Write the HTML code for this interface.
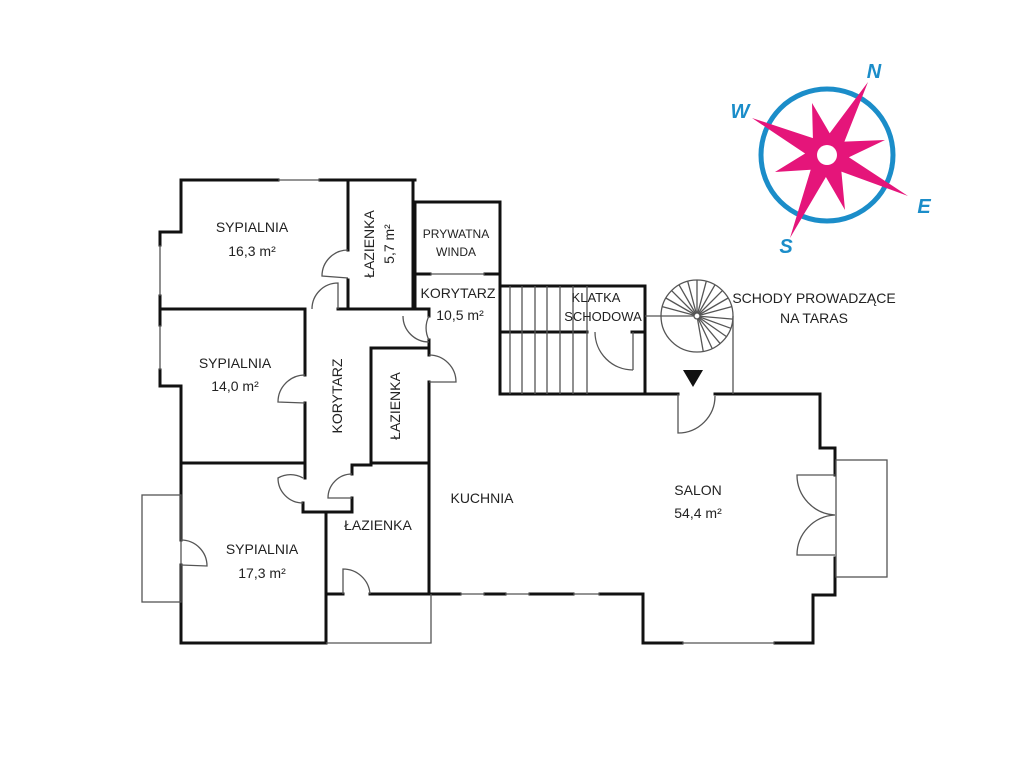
<!DOCTYPE html>
<html><head><meta charset="utf-8"><style>
html,body{margin:0;padding:0;background:#fff;}
svg{display:block;}
text{font-family:"Liberation Sans",sans-serif;fill:#222;}
</style></head><body>
<svg width="1024" height="768" viewBox="0 0 1024 768" xmlns="http://www.w3.org/2000/svg">
<g fill="none" stroke="#111" stroke-width="3" stroke-linecap="square">
<polyline points="278,180 181,180 181,232 160,232 160,245"/>
<line x1="320" y1="180" x2="415" y2="180"/>
<polyline points="160,296 160,325"/>
<line x1="160" y1="309" x2="303" y2="309"/>
<polyline points="338,309 338,309 429,309 429,316"/>
<line x1="348" y1="180" x2="348" y2="250"/>
<line x1="348" y1="280" x2="348" y2="309"/>
<line x1="413" y1="180" x2="413" y2="309"/>
<polyline points="415,202 500,202 500,286 645,286 645,394"/>
<line x1="415" y1="202" x2="415" y2="309"/>
<line x1="415" y1="274" x2="430" y2="274"/>
<line x1="485" y1="274" x2="500" y2="274"/>
<line x1="160" y1="370" x2="160" y2="386"/>
<polyline points="160,386 181,386 181,463"/>
<line x1="181" y1="463" x2="303" y2="463"/>
<line x1="305" y1="309" x2="305" y2="375"/>
<line x1="305" y1="403" x2="305" y2="478"/>
<polyline points="303,503 303,512 352,512 352,498"/>
<polyline points="352,474 352,465 371,465"/>
<polyline points="371,465 371,348 429,348 429,355"/>
<line x1="371" y1="463" x2="429" y2="463"/>
<line x1="429" y1="340" x2="429" y2="350"/>
<line x1="429" y1="382" x2="429" y2="594"/>
<line x1="181" y1="463" x2="181" y2="540"/>
<polyline points="181,565 181,643 326,643 326,512"/>
<line x1="326" y1="594" x2="343" y2="594"/>
<line x1="370" y1="594" x2="460" y2="594"/>
<line x1="485" y1="594" x2="505" y2="594"/>
<line x1="530" y1="594" x2="573" y2="594"/>
<polyline points="600,594 643,594 643,643 682,643"/>
<polyline points="775,643 813,643 813,595 835,595 835,558"/>
<polyline points="835,475 835,448 820,448 820,394 715,394"/>
<line x1="500" y1="394" x2="678" y2="394"/>
<line x1="500" y1="286" x2="500" y2="394"/>
<line x1="500" y1="332" x2="587" y2="332"/>
<line x1="632" y1="332" x2="645" y2="332"/>
</g>
<g fill="none" stroke="#555" stroke-width="1.3">
<line x1="278" y1="180" x2="320" y2="180"/>
<line x1="160" y1="245" x2="160" y2="296"/>
<line x1="160" y1="325" x2="160" y2="370"/>
<line x1="430" y1="274" x2="485" y2="274"/>
<line x1="460" y1="594" x2="485" y2="594"/>
<line x1="505" y1="594" x2="530" y2="594"/>
<line x1="573" y1="594" x2="600" y2="594"/>
<line x1="682" y1="643" x2="775" y2="643"/>
<rect x="142" y="495" width="39" height="107"/>
<rect x="836" y="460" width="51" height="117"/>
<polyline points="326,643 431,643 431,594"/>
<line x1="510" y1="286" x2="510" y2="394"/><line x1="522" y1="286" x2="522" y2="394"/>
<line x1="535" y1="286" x2="535" y2="394"/><line x1="547" y1="286" x2="547" y2="394"/>
<line x1="560" y1="286" x2="560" y2="394"/><line x1="573" y1="286" x2="573" y2="394"/>
<line x1="587" y1="286" x2="587" y2="394"/>
<line x1="633" y1="332" x2="633" y2="370"/>
<path d="M595,332 A38,38 0 0 0 633,370"/>
<line x1="645" y1="316" x2="697" y2="316"/>
<line x1="733" y1="316" x2="733" y2="394"/>
<circle cx="697" cy="316" r="36"/>
<g transform="translate(697,316)">
<line x1="0" y1="0" x2="36" y2="0" transform="rotate(195)"/><line x1="0" y1="0" x2="36" y2="0" transform="rotate(210)"/>
<line x1="0" y1="0" x2="36" y2="0" transform="rotate(225)"/><line x1="0" y1="0" x2="36" y2="0" transform="rotate(240)"/>
<line x1="0" y1="0" x2="36" y2="0" transform="rotate(255)"/><line x1="0" y1="0" x2="36" y2="0" transform="rotate(270)"/>
<line x1="0" y1="0" x2="36" y2="0" transform="rotate(285)"/><line x1="0" y1="0" x2="36" y2="0" transform="rotate(300)"/>
<line x1="0" y1="0" x2="36" y2="0" transform="rotate(315)"/><line x1="0" y1="0" x2="36" y2="0" transform="rotate(330)"/>
<line x1="0" y1="0" x2="36" y2="0" transform="rotate(345)"/><line x1="0" y1="0" x2="36" y2="0" transform="rotate(5)"/>
<line x1="0" y1="0" x2="36" y2="0" transform="rotate(20)"/><line x1="0" y1="0" x2="36" y2="0" transform="rotate(35)"/>
<line x1="0" y1="0" x2="36" y2="0" transform="rotate(50)"/><line x1="0" y1="0" x2="36" y2="0" transform="rotate(65)"/>
<line x1="0" y1="0" x2="36" y2="0" transform="rotate(80)"/>
<circle r="3" fill="#fff"/>
</g>
<path d="M348,250 A26,26 0 0 0 322,276 L348,278"/>
<path d="M312,309 A26,26 0 0 1 338,283 L338,309"/>
<path d="M429,316 A26,26 0 0 0 429,340"/>
<path d="M403,316 A26,26 0 0 0 429,342"/>
<path d="M429,355 A27,27 0 0 1 456,382 L429,382"/>
<path d="M305,375 A27,27 0 0 0 278,402 L305,403"/>
<path d="M303,478 A25,25 0 0 0 278,478 A25,25 0 0 0 303,503"/>
<path d="M352,474 A24,24 0 0 0 328,498 L352,498"/>
<path d="M181,540 A26,26 0 0 1 207,566 L181,565"/>
<path d="M343,594 L343,569 A27,27 0 0 1 370,594"/>
<path d="M678,394 L678,433 A37,37 0 0 0 715,396"/>
<path d="M835,475 L797,475 A40,40 0 0 0 835,515 A40,40 0 0 0 797,555 L835,555"/>
</g>
<polygon points="683,370 703,370 693,387" fill="#111"/>
<g font-size="14" text-anchor="middle">
<text x="252" y="232">SYPIALNIA</text><text x="252" y="256">16,3 m²</text>
<text x="235" y="368">SYPIALNIA</text><text x="235" y="391">14,0 m²</text>
<text x="262" y="554">SYPIALNIA</text><text x="262" y="578">17,3 m²</text>
<text x="378" y="530">ŁAZIENKA</text>
<text x="482" y="503">KUCHNIA</text>
<text x="698" y="495">SALON</text><text x="698" y="518">54,4 m²</text>
<text x="458" y="298">KORYTARZ</text><text x="460" y="320">10,5 m²</text>
<text x="814" y="303">SCHODY PROWADZĄCE</text><text x="814" y="323">NA TARAS</text>
<text x="596" y="302" font-size="13">KLATKA</text><text x="603" y="321" font-size="13">SCHODOWA</text>
<text x="456" y="238" font-size="12">PRYWATNA</text><text x="456" y="256" font-size="12">WINDA</text>
<text transform="translate(374,244) rotate(-90)">ŁAZIENKA</text>
<text transform="translate(394,244) rotate(-90)">5,7 m²</text>
<text transform="translate(342,396) rotate(-90)">KORYTARZ</text>
<text transform="translate(400,406) rotate(-90)">ŁAZIENKA</text>
</g>
<circle cx="827" cy="155" r="66" fill="none" stroke="#1b8dc9" stroke-width="5"/>
<polygon fill="#e5157a" points="868,82 844.4,141.6 885,140 848.9,157.3 908,196 841.4,171.6 845,210 825.9,177 790,238 810.7,169.7 775,172 805.1,153.5 752,118 812.9,138.1 812,103 829.7,133.2"/>
<circle cx="827" cy="155" r="10" fill="#fff"/>
<g font-family="Liberation Sans,sans-serif" font-weight="bold" font-style="italic" font-size="20" text-anchor="middle">
<text x="874" y="78" style="fill:#1b8dc9">N</text>
<text x="740" y="118" style="fill:#1b8dc9">W</text>
<text x="924" y="213" style="fill:#1b8dc9">E</text>
<text x="786" y="253" style="fill:#1b8dc9">S</text>
</g>
</svg>
</body></html>
